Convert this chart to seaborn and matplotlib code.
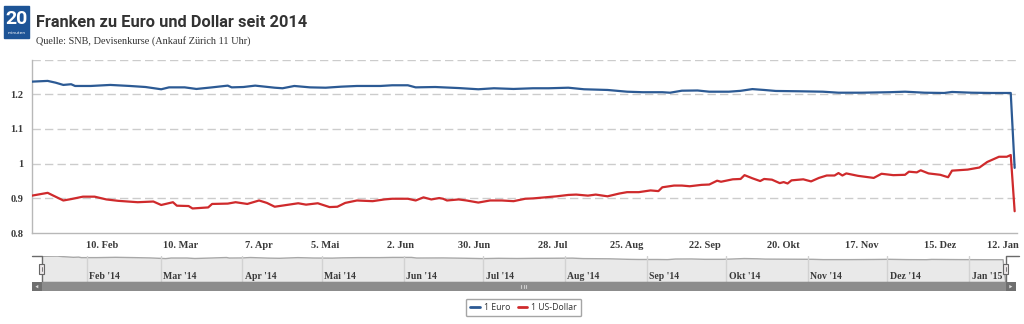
import numpy as np
import pandas as pd
import matplotlib
matplotlib.use("Agg")
import matplotlib.pyplot as plt
import matplotlib.transforms as mtransforms
import matplotlib.dates as mdates
from matplotlib.patches import Rectangle, Polygon
from matplotlib.lines import Line2D
import seaborn as sns

# ---------------------------------------------------------------- data
euro_dates = [
    "2014-01-15", "2014-01-21", "2014-01-23", "2014-01-27", "2014-01-29", "2014-01-30",
    "2014-02-05", "2014-02-12", "2014-02-19", "2014-02-25", "2014-03-03", "2014-03-05",
    "2014-03-11", "2014-03-14", "2014-03-20", "2014-03-26", "2014-03-27", "2014-04-01",
    "2014-04-04", "2014-04-11", "2014-04-15", "2014-04-22", "2014-04-28", "2014-05-05",
    "2014-05-09", "2014-05-15", "2014-05-23", "2014-05-28", "2014-06-04", "2014-06-06",
    "2014-06-16", "2014-06-24", "2014-07-01", "2014-07-07", "2014-07-14", "2014-07-21",
    "2014-07-25", "2014-08-04", "2014-08-08", "2014-08-18", "2014-08-25", "2014-08-29",
    "2014-09-05", "2014-09-09", "2014-09-12", "2014-09-18", "2014-09-23", "2014-09-30",
    "2014-10-03", "2014-10-08", "2014-10-13", "2014-10-16", "2014-10-24", "2014-11-03",
    "2014-11-07", "2014-11-17", "2014-11-26", "2014-12-02", "2014-12-09", "2014-12-16",
    "2014-12-18", "2014-12-29", "2015-01-07", "2015-01-14", "2015-01-15",
]
euro_values = [
    1.2365, 1.2386, 1.2336, 1.2270, 1.2290, 1.2240,
    1.2240, 1.2270, 1.2240, 1.2210, 1.2145, 1.2200,
    1.2200, 1.2154, 1.2200, 1.2250, 1.2200, 1.2210,
    1.2250, 1.2190, 1.2174, 1.2240, 1.2200, 1.2190,
    1.2220, 1.2240, 1.2240, 1.2260, 1.2260, 1.2200,
    1.2210, 1.2180, 1.2145, 1.2174, 1.2154, 1.2174,
    1.2174, 1.2190, 1.2145, 1.2125, 1.2075, 1.2060,
    1.2060, 1.2046, 1.2104, 1.2110, 1.2075, 1.2075,
    1.2100, 1.2150, 1.2125, 1.2096, 1.2087, 1.2075,
    1.2046, 1.2046, 1.2060, 1.2075, 1.2046, 1.2038,
    1.2067, 1.2046, 1.2038, 1.2038, 0.9880,
]

usd_dates = [
    "2014-01-15", "2014-01-21", "2014-01-27", "2014-01-29", "2014-02-03", "2014-02-06",
    "2014-02-11", "2014-02-14", "2014-02-21", "2014-02-27", "2014-03-03", "2014-03-06",
    "2014-03-07", "2014-03-12", "2014-03-13", "2014-03-19", "2014-03-20", "2014-03-26",
    "2014-03-28", "2014-04-02", "2014-04-07", "2014-04-09", "2014-04-11", "2014-04-16",
    "2014-04-23", "2014-04-25", "2014-04-30", "2014-05-06", "2014-05-08", "2014-05-12",
    "2014-05-15", "2014-05-19", "2014-05-21", "2014-05-26", "2014-05-28", "2014-06-04",
    "2014-06-06", "2014-06-11", "2014-06-13", "2014-06-17", "2014-06-18", "2014-06-19",
    "2014-06-24", "2014-06-26", "2014-07-01", "2014-07-04", "2014-07-09", "2014-07-14",
    "2014-07-17", "2014-07-21", "2014-07-24", "2014-07-29", "2014-08-04", "2014-08-06",
    "2014-08-11", "2014-08-13", "2014-08-18", "2014-08-21", "2014-08-25", "2014-08-28",
    "2014-09-02", "2014-09-04", "2014-09-05", "2014-09-10", "2014-09-12", "2014-09-16",
    "2014-09-19", "2014-09-23", "2014-09-25", "2014-09-26", "2014-10-01", "2014-10-03",
    "2014-10-06", "2014-10-08", "2014-10-10", "2014-10-13", "2014-10-15", "2014-10-17",
    "2014-10-20", "2014-10-21", "2014-10-22", "2014-10-27", "2014-10-29", "2014-10-31",
    "2014-11-04", "2014-11-06", "2014-11-07", "2014-11-10", "2014-11-11", "2014-11-14",
    "2014-11-20", "2014-11-24", "2014-11-27", "2014-12-02", "2014-12-03", "2014-12-05",
    "2014-12-08", "2014-12-10", "2014-12-15", "2014-12-17", "2014-12-18", "2014-12-24",
    "2014-12-31", "2015-01-06", "2015-01-09", "2015-01-13", "2015-01-14", "2015-01-15",
]
usd_values = [
    0.908, 0.916, 0.894, 0.898, 0.905, 0.905,
    0.897, 0.893, 0.889, 0.891, 0.881, 0.889,
    0.879, 0.878, 0.871, 0.874, 0.884, 0.885,
    0.889, 0.884, 0.894, 0.887, 0.876, 0.881,
    0.886, 0.882, 0.886, 0.875, 0.876, 0.887,
    0.894, 0.893, 0.892, 0.897, 0.899, 0.899,
    0.894, 0.903, 0.897, 0.901, 0.899, 0.894,
    0.897, 0.894, 0.888, 0.894, 0.894, 0.892,
    0.899, 0.900, 0.903, 0.906, 0.910, 0.911,
    0.908, 0.911, 0.906, 0.914, 0.918, 0.918,
    0.923, 0.921, 0.932, 0.937, 0.937, 0.935,
    0.939, 0.940, 0.951, 0.948, 0.955, 0.956,
    0.967, 0.958, 0.950, 0.956, 0.954, 0.944,
    0.947, 0.943, 0.952, 0.955, 0.949, 0.959,
    0.966, 0.966, 0.973, 0.966, 0.972, 0.965,
    0.959, 0.971, 0.967, 0.968, 0.977, 0.975,
    0.981, 0.972, 0.968, 0.961, 0.980, 0.983,
    0.989, 1.005, 1.020, 1.020, 1.025, 0.863,
]

series_names = ["1 Euro", "1 US-Dollar"]
tick_dates = ["2014-02-10", "2014-03-10", "2014-04-07", "2014-05-05", "2014-06-02",
              "2014-06-30", "2014-07-28", "2014-08-25", "2014-09-22", "2014-10-20",
              "2014-11-17", "2014-12-15", "2015-01-12"]
tick_labels = ["10. Feb", "10. Mar", "7. Apr", "5. Mai", "2. Jun", "30. Jun", "28. Jul",
               "25. Aug", "22. Sep", "20. Okt", "17. Nov", "15. Dez", "12. Jan"]
y_ticks = [0.8, 0.9, 1.0, 1.1, 1.2, 1.3]
y_tick_labels = ["0.8", "0.9", "1", "1.1", "1.2", ""]
nav_months = ["Feb '14", "Mar '14", "Apr '14", "Mai '14", "Jun '14", "Jul '14",
              "Aug '14", "Sep '14", "Okt '14", "Nov '14", "Dez '14", "Jan '15"]

# SNB fixing days: weekdays without Zurich bank holidays
holidays = ["2014-04-18", "2014-04-21", "2014-05-01", "2014-05-29", "2014-06-09",
            "2014-08-01", "2014-12-25", "2014-12-26", "2015-01-01", "2015-01-02"]

# ---------------------------------------------------------------- style
BLUE = "#2c5a94"
RED = "#cf2a2c"
GRID = "#cccccc"
AXIS = "#b8b8b8"
TXT = "#3a3a3a"
SERIF = ["Liberation Serif", "DejaVu Serif"]

sns.set_style("white")
plt.rcParams["font.family"] = ["DejaVu Sans"]

W, H = 1024, 324


def fbox(x0, y0, x1, y1):
    """Pixel box (top-left origin) -> figure fraction rectangle."""
    return [x0 / W, 1 - y1 / H, (x1 - x0) / W, (y1 - y0) / H]


fig = plt.figure(figsize=(W / 100, H / 100), dpi=100)

# ordinal axis: one slot per fixing day
trading = pd.bdate_range("2014-01-15", "2015-01-15")
trading = trading[~trading.isin(pd.to_datetime(holidays))]
slot = pd.Series(np.arange(len(trading)), index=trading)

euro = pd.DataFrame({"datum": pd.to_datetime(euro_dates), "kurs": euro_values,
                     "serie": series_names[0]})
usd = pd.DataFrame({"datum": pd.to_datetime(usd_dates), "kurs": usd_values,
                    "serie": series_names[1]})
df = pd.concat([euro, usd], ignore_index=True)
df["pos"] = slot.reindex(df["datum"]).to_numpy()

# ---------------------------------------------------------------- header
fig.patches.append(Rectangle((4 / W, 1 - 38 / H), 25 / W, 32 / H,
                             transform=fig.transFigure, color="#1d5496", zorder=5))
fig.text(16.5 / W, 1 - 19 / H, "20", color="white", fontsize=14, fontweight="bold",
         ha="center", va="center", family=["Roboto", "DejaVu Sans"], zorder=6)
fig.text(16.5 / W, 1 - 33.5 / H, "minuten", color="white", fontsize=3.2,
         ha="center", va="center", zorder=6)
fig.text(36 / W, 1 - 27 / H, "Franken zu Euro und Dollar seit 2014", fontsize=11.8,
         fontweight="bold", color="#333333", ha="left", va="baseline",
         family=["Roboto", "DejaVu Sans"])
fig.text(36 / W, 1 - 43.5 / H, "Quelle: SNB, Devisenkurse (Ankauf Zürich 11 Uhr)",
         fontsize=7.4, color="#333333", ha="left", va="baseline", family=SERIF)

# ---------------------------------------------------------------- main chart
ax = fig.add_axes(fbox(32, 59.6, 1017, 233.1))
sns.lineplot(data=df, x="pos", y="kurs", hue="serie",
             palette={series_names[0]: BLUE, series_names[1]: RED},
             estimator=None, linewidth=1.6, legend=False, ax=ax, zorder=3)
ax.set_xlim(0, len(trading) - 0.4)
ax.set_ylim(0.8, 1.3)
ax.set_xlabel("")
ax.set_ylabel("")

for v in y_ticks[1:]:
    ax.axhline(v, color=GRID, lw=1, linestyle=(0, (6, 3)), zorder=1)
ax.set_yticks(y_ticks)
ax.set_yticklabels(y_tick_labels, family=SERIF, fontweight="bold", fontsize=7.5,
                   color=TXT)
ax.set_xticks(slot.reindex(pd.to_datetime(tick_dates)).to_numpy())
ax.set_xticklabels(tick_labels, family=SERIF, fontweight="bold", fontsize=7.5,
                   color=TXT)
ax.tick_params(axis="y", length=0, pad=6)
ax.tick_params(axis="x", length=4, width=1, color=AXIS, pad=1.5)
for side in ["top", "right"]:
    ax.spines[side].set_visible(False)
for side in ["left", "bottom"]:
    ax.spines[side].set_color(AXIS)
    ax.spines[side].set_linewidth(1)
ax.grid(False)

# ---------------------------------------------------------------- navigator
start, end = euro["datum"].iloc[0], euro["datum"].iloc[-1]
nav = fig.add_axes(fbox(32, 255.7, 1016, 282.3))
span = mdates.date2num(end) - mdates.date2num(start)
px_day = (1005.7 - 41.7) / span
nav.set_xlim(mdates.date2num(start) - (41.7 - 32) / px_day,
             mdates.date2num(end) + (1016 - 1005.7) / px_day)
lo, hi = min(euro_values), max(euro_values)
nav.set_ylim(lo - 0.003, hi + 0.004)
nav.fill_between(mdates.date2num(euro["datum"]), euro["kurs"], lo - 0.01,
                 color="#e9e9e9", lw=0, zorder=1)
sns.lineplot(x=mdates.date2num(euro["datum"]), y=euro["kurs"], color="#a8a8a8",
             linewidth=1, estimator=None, ax=nav, zorder=2)
for d, lab in zip(pd.date_range("2014-02-01", "2015-01-01", freq="MS"), nav_months):
    nav.axvline(mdates.date2num(d), color="#d2d2d2", lw=1, zorder=2)
    nav.annotate(lab, (mdates.date2num(d), 0.21), xycoords=("data", "axes fraction"),
                 xytext=(2, 0), textcoords="offset points", ha="left", va="center",
                 family=SERIF, fontweight="bold", fontsize=7, color=TXT)
blend = mtransforms.blended_transform_factory(nav.transData, nav.transAxes)
x0, x1 = nav.get_xlim()
s_num, e_num = mdates.date2num(start), mdates.date2num(end)
nav.add_patch(Rectangle((x0, 0), s_num - x0, 1, transform=blend, color="white",
                        alpha=0.8, lw=0, zorder=4))
nav.add_patch(Rectangle((e_num, 0), x1 - e_num, 1, transform=blend, color="white",
                        alpha=0.8, lw=0, zorder=4))
nav.plot([x0, s_num, s_num, e_num, e_num, x1 + 1.2], [1, 1, 0, 0, 1, 1],
         transform=blend, color="#6a6a6a", lw=1, clip_on=False, zorder=6)
hw = 2.6 / px_day
for c in (s_num, e_num):
    nav.add_patch(Rectangle((c - hw, 0.33), 2 * hw, 0.34, transform=blend,
                            facecolor="#ebe7e8", edgecolor="#666666", lw=0.8,
                            clip_on=False, zorder=7))
    nav.plot([c, c], [0.42, 0.58], transform=blend, color="#666666", lw=0.6,
             clip_on=False, zorder=8)
nav.axis("off")

# scrollbar
sb = fig.add_axes(fbox(32, 282.3, 1016, 291))
sb.set_xlim(0, 1)
sb.set_ylim(0, 1)
sb.axis("off")
bw = (41.7 - 32) / (1016 - 32)
sb.add_patch(Rectangle((0, 0), 1, 1, color="#8c8c8c", lw=0))
sb.add_patch(Rectangle((0, 0), bw, 1, color="#6f6f6f", lw=0))
rb0 = (1005.7 - 32) / (1016 - 32)
sb.add_patch(Rectangle((rb0, 0), 1 - rb0, 1, color="#6f6f6f", lw=0))
sb.add_patch(Polygon([[bw * 0.65, 0.3], [bw * 0.65, 0.7], [bw * 0.35, 0.5]],
                     color="#dddddd", lw=0))
sb.add_patch(Polygon([[rb0 + (1 - rb0) * 0.35, 0.3], [rb0 + (1 - rb0) * 0.35, 0.7],
                      [rb0 + (1 - rb0) * 0.65, 0.5]], color="#dddddd", lw=0))
mid = (bw + rb0) / 2
for k in (-1, 0, 1):
    sb.plot([mid + k * 0.0025] * 2, [0.3, 0.7], color="#cfcfcf", lw=0.8)

# ---------------------------------------------------------------- legend
handles = [Line2D([], [], color=BLUE, lw=2), Line2D([], [], color=RED, lw=2)]
leg = fig.legend(handles, series_names, loc="center",
                 bbox_to_anchor=(523.5 / W, 1 - 307.5 / H), ncol=2, frameon=True,
                 fancybox=True, edgecolor="#8f8f8f", facecolor="white",
                 handlelength=1.1, handletextpad=0.45, columnspacing=0.9,
                 borderpad=0.5, prop={"family": ["Open Sans", "DejaVu Sans"], "size": 6.3})
for t in leg.get_texts():
    t.set_color("#333333")
leg.get_frame().set_linewidth(1)

fig.savefig("out.png", dpi=100)
